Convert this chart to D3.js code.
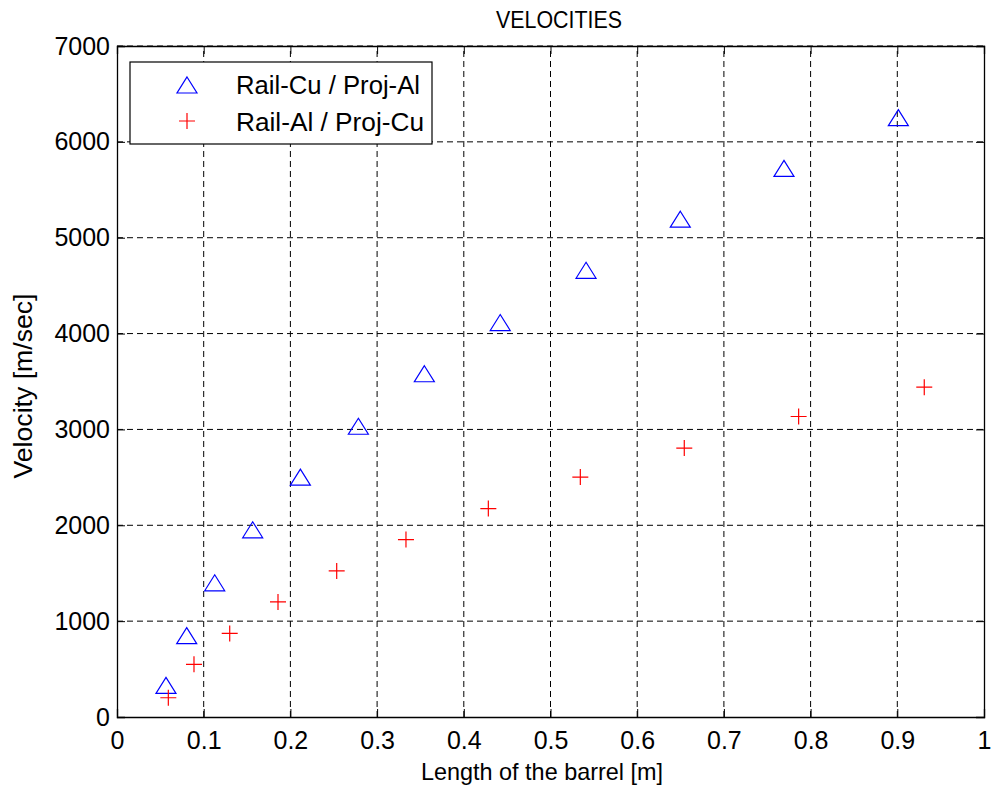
<!DOCTYPE html>
<html>
<head>
<meta charset="utf-8">
<script src="https://cdn.jsdelivr.net/npm/d3@7"></script>
<style>
  html, body { margin: 0; padding: 0; background: #fff; }
  svg { display: block; font-family: "Liberation Sans", Arial, sans-serif; }
</style>
</head>
<body>
<svg id="chart" width="996" height="791"></svg>
<script>
// Measured muzzle velocity along the barrel for two rail/projectile material pairs
const cuAlLength = [0.0565, 0.0804, 0.1127, 0.1565, 0.2115, 0.2784, 0.3545, 0.442, 0.541, 0.6497, 0.7693, 0.9012];
const cuAlVelocity = [330, 849, 1400, 1953, 2503, 3033, 3581, 4115, 4660, 5193, 5724, 6253];

const alCuLength = [0.0592, 0.0888, 0.130, 0.1857, 0.2534, 0.3333, 0.4283, 0.5344, 0.6543, 0.7862, 0.9311];
const alCuVelocity = [201, 549, 872, 1201, 1524, 1851, 2174, 2503, 2805, 3135, 3441];

const xTicks = [0, 0.1, 0.2, 0.3, 0.4, 0.5, 0.6, 0.7, 0.8, 0.9, 1];
const yTicks = [0, 1000, 2000, 3000, 4000, 5000, 6000, 7000];
const seriesNames = ["Rail-Cu / Proj-Al", "Rail-Al / Proj-Cu"];

const svg = d3.select("#chart");
const margin = { left: 117, right: 12, top: 46, bottom: 74 };
const W = 996, H = 791;
const x = d3.scaleLinear().domain([0, 1]).range([margin.left, W - margin.right]);
const y = d3.scaleLinear().domain([0, 7000]).range([H - margin.bottom, margin.top]);

const x0 = x(0), x1 = x(1), y0 = y(0), y1 = y(7000);

// dashed grid
const grid = svg.append("g");
grid.selectAll("line.gx").data(xTicks.slice(1, -1)).join("line")
  .attr("x1", d => x(d)).attr("x2", d => x(d)).attr("y1", y0).attr("y2", y1)
  .attr("stroke", "#000").attr("stroke-width", 1).attr("stroke-dasharray", "6,4");
grid.selectAll("line.gy").data(yTicks.slice(1)).join("line")
  .attr("x1", x0).attr("x2", x1).attr("y1", d => y(d)).attr("y2", d => y(d))
  .attr("stroke", "#000").attr("stroke-width", 1).attr("stroke-dasharray", "6,4");

// axes (bottom/left labelled, top/right ticks only)
const tickLen = 8;
const xAxis = d3.axisBottom(x).tickValues(xTicks).tickSize(-tickLen).tickPadding(14)
  .tickFormat(d => d === 0 ? "0" : d === 1 ? "1" : d3.format(".1f")(d));
const yAxis = d3.axisLeft(y).tickValues(yTicks).tickSize(-tickLen).tickPadding(7)
  .tickFormat(d3.format("d"));

const gx = svg.append("g").attr("transform", `translate(0,${y0})`).call(xAxis);
const gy = svg.append("g").attr("transform", `translate(${x0},0)`).call(yAxis);
svg.append("g").attr("transform", `translate(0,${y1})`)
  .call(d3.axisTop(x).tickValues(xTicks).tickSize(-tickLen).tickFormat(""));
svg.append("g").attr("transform", `translate(${x1},0)`)
  .call(d3.axisRight(y).tickValues(yTicks).tickSize(-tickLen).tickFormat(""));

svg.selectAll(".domain").attr("stroke", "#000").attr("stroke-width", 1.3);
svg.selectAll(".tick line").attr("stroke", "#000");
svg.selectAll(".tick text").attr("font-size", 25).attr("fill", "#000")
  .attr("font-family", "'Liberation Sans', Arial, sans-serif");
gx.selectAll(".tick text").attr("dy", "0.71em");

// markers
function triPath(cx, cy) {
  const w = 20, h = 16;
  return `M${cx},${cy - h / 2}L${cx + w / 2},${cy + h / 2}L${cx - w / 2},${cy + h / 2}Z`;
}
function crossPath(cx, cy) {
  const s = 8;
  return `M${cx - s},${cy}L${cx + s},${cy}M${cx},${cy - s}L${cx},${cy + s}`;
}

svg.append("g").selectAll("path").data(d3.zip(cuAlLength, cuAlVelocity)).join("path")
  .attr("d", d => triPath(x(d[0]), y(d[1])))
  .attr("fill", "none").attr("stroke", "#0000ff").attr("stroke-width", 1.2);

svg.append("g").selectAll("path").data(d3.zip(alCuLength, alCuVelocity)).join("path")
  .attr("d", d => crossPath(x(d[0]), y(d[1])))
  .attr("fill", "none").attr("stroke", "#ff0000").attr("stroke-width", 1.2);

// legend
const lg = svg.append("g");
lg.append("rect").attr("x", 130).attr("y", 62).attr("width", 302).attr("height", 82)
  .attr("fill", "#fff").attr("stroke", "#000").attr("stroke-width", 1.2);
lg.append("path").attr("d", triPath(187, 85)).attr("fill", "none").attr("stroke", "#0000ff").attr("stroke-width", 1.2);
lg.append("path").attr("d", crossPath(187, 121)).attr("fill", "none").attr("stroke", "#ff0000").attr("stroke-width", 1.2);
lg.selectAll("text").data(seriesNames).join("text")
  .attr("x", 236).attr("y", (d, i) => 85 + i * 37).attr("dy", "0.35em")
  .attr("font-size", 25).attr("fill", "#000")
  .attr("textLength", (d, i) => i === 0 ? 184 : 188).attr("lengthAdjust", "spacingAndGlyphs")
  .text(d => d);

// titles
svg.append("text").attr("x", 559).attr("y", 28).attr("text-anchor", "middle")
  .attr("font-size", 23).attr("fill", "#000")
  .attr("textLength", 126).attr("lengthAdjust", "spacingAndGlyphs").text("VELOCITIES");
svg.append("text").attr("x", 542).attr("y", 780).attr("text-anchor", "middle")
  .attr("font-size", 24).attr("fill", "#000")
  .attr("textLength", 242).attr("lengthAdjust", "spacingAndGlyphs").text("Length of the barrel [m]");
svg.append("text").attr("transform", `translate(32,386) rotate(-90)`)
  .attr("text-anchor", "middle").attr("font-size", 25).attr("fill", "#000")
  .attr("textLength", 185).attr("lengthAdjust", "spacingAndGlyphs")
  .text("Velocity [m/sec]");
</script>
</body>
</html>
